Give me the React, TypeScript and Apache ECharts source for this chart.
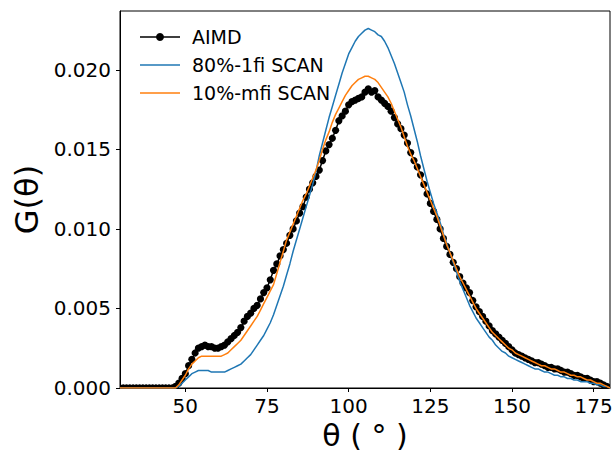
import React, { useEffect, useRef } from "react";
import * as echarts from "echarts";

// θ from 30° to 180° in 1° steps
const thetaStart = 30;
const thetaEnd = 180;

// AIMD reference G(θ)
const aimd: number[] = [
  // 30-39
  0, 0, 0, 0, 0, 0, 0, 0, 0, 0,
  // 40-49
  0, 0, 0, 0, 0, 0, 0, 0.0001, 0.0003, 0.0006,
  // 50-59
  0.0009, 0.0014, 0.0018, 0.0022, 0.0025, 0.0026, 0.0027, 0.0026, 0.0026, 0.0025,
  // 60-69
  0.0025, 0.0026, 0.0027, 0.0029, 0.0031, 0.0033, 0.0035, 0.0038, 0.0042, 0.0045,
  // 70-79
  0.0047, 0.0050, 0.0052, 0.0056, 0.0060, 0.0063, 0.0068, 0.0074, 0.0078, 0.0083,
  // 80-89
  0.0087, 0.0091, 0.0096, 0.0100, 0.0105, 0.0110, 0.0114, 0.0120, 0.0125, 0.0129,
  // 90-99
  0.0133, 0.0137, 0.0143, 0.0149, 0.0153, 0.0157, 0.0162, 0.0168, 0.0171, 0.0174,
  // 100-109
  0.0178, 0.0180, 0.0181, 0.0182, 0.0183, 0.0186, 0.0188, 0.0186, 0.0187, 0.0183,
  // 110-119
  0.0181, 0.0179, 0.0177, 0.0174, 0.0170, 0.0166, 0.0163, 0.0159, 0.0154, 0.0148,
  // 120-129
  0.0143, 0.0139, 0.0134, 0.0128, 0.0122, 0.0116, 0.0111, 0.0106, 0.0100, 0.0094,
  // 130-139
  0.0089, 0.0084, 0.0079, 0.0075, 0.0070, 0.0066, 0.0063, 0.0060, 0.0055, 0.0051,
  // 140-149
  0.0048, 0.0045, 0.0042, 0.0039, 0.0036, 0.0034, 0.0032, 0.0030, 0.0028, 0.0026,
  // 150-159
  0.0024, 0.0022, 0.0021, 0.0020, 0.0019, 0.0018, 0.0017, 0.0016, 0.0016, 0.0015,
  // 160-169
  0.0014, 0.0013, 0.0013, 0.0012, 0.0012, 0.0011, 0.0010, 0.0010, 0.0009, 0.0008,
  // 170-179
  0.0008, 0.0007, 0.0006, 0.0006, 0.0005, 0.0004, 0.0004, 0.0003, 0.0002, 0.0001,
  // 180
  0.0,
];

// 80%-1fi SCAN
const scan80: number[] = [
  // 30-39
  0, 0, 0, 0, 0, 0, 0, 0, 0, 0,
  // 40-49
  0, 0, 0, 0, 0, 0, 0, 0.0, 0.0001, 0.0003,
  // 50-59
  0.0005, 0.0007, 0.0009, 0.0010, 0.0011, 0.0011, 0.0011, 0.0011, 0.0010, 0.0010,
  // 60-69
  0.0010, 0.0010, 0.0010, 0.0011, 0.0012, 0.0013, 0.0014, 0.0015, 0.0017, 0.0019,
  // 70-79
  0.0021, 0.0024, 0.0027, 0.0030, 0.0033, 0.0037, 0.0041, 0.0046, 0.0052, 0.0058,
  // 80-89
  0.0064, 0.0071, 0.0078, 0.0086, 0.0093, 0.0100, 0.0107, 0.0114, 0.0121, 0.0128,
  // 90-99
  0.0136, 0.0146, 0.0154, 0.0162, 0.0170, 0.0177, 0.0184, 0.0191, 0.0198, 0.0204,
  // 100-109
  0.0210, 0.0214, 0.0218, 0.0221, 0.0223, 0.0225, 0.0226, 0.0225, 0.0224, 0.0222,
  // 110-119
  0.0221, 0.0218, 0.0214, 0.0209, 0.0204, 0.0198, 0.0192, 0.0186, 0.0178, 0.0171,
  // 120-129
  0.0163, 0.0155, 0.0146, 0.0138, 0.0130, 0.0123, 0.0116, 0.0110, 0.0104, 0.0097,
  // 130-139
  0.0091, 0.0085, 0.0079, 0.0073, 0.0067, 0.0062, 0.0057, 0.0052, 0.0048, 0.0044,
  // 140-149
  0.0041, 0.0038, 0.0035, 0.0032, 0.0030, 0.0027, 0.0025, 0.0023, 0.0022, 0.0020,
  // 150-159
  0.0019, 0.0018, 0.0017, 0.0016, 0.0015, 0.0014, 0.0013, 0.0012, 0.0012, 0.0011,
  // 160-169
  0.0010, 0.0010, 0.0009, 0.0008, 0.0008, 0.0007, 0.0007, 0.0006, 0.0006, 0.0005,
  // 170-179
  0.0005, 0.0004, 0.0004, 0.0004, 0.0003, 0.0003, 0.0002, 0.0002, 0.0001, 0.0001,
  // 180
  0.0,
];

// 10%-mfi SCAN
const scan10: number[] = [
  // 30-39
  0, 0, 0, 0, 0, 0, 0, 0, 0, 0,
  // 40-49
  0, 0, 0, 0, 0, 0, 0, 0.0, 0.0002, 0.0005,
  // 50-59
  0.0008, 0.0012, 0.0015, 0.0017, 0.0019, 0.0020, 0.0020, 0.0020, 0.0020, 0.0020,
  // 60-69
  0.0020, 0.0020, 0.0021, 0.0022, 0.0024, 0.0026, 0.0028, 0.0030, 0.0033, 0.0036,
  // 70-79
  0.0039, 0.0042, 0.0045, 0.0049, 0.0053, 0.0057, 0.0061, 0.0065, 0.0072, 0.0079,
  // 80-89
  0.0086, 0.0093, 0.0098, 0.0103, 0.0108, 0.0113, 0.0118, 0.0122, 0.0127, 0.0132,
  // 90-99
  0.0137, 0.0143, 0.0150, 0.0156, 0.0161, 0.0167, 0.0172, 0.0176, 0.0180, 0.0184,
  // 100-109
  0.0187, 0.0190, 0.0192, 0.0194, 0.0195, 0.0196, 0.0196, 0.0195, 0.0194, 0.0192,
  // 110-119
  0.0189, 0.0186, 0.0183, 0.0179, 0.0174, 0.0169, 0.0164, 0.0158, 0.0152, 0.0147,
  // 120-129
  0.0143, 0.0138, 0.0133, 0.0128, 0.0123, 0.0118, 0.0113, 0.0108, 0.0102, 0.0096,
  // 130-139
  0.0090, 0.0085, 0.0080, 0.0075, 0.0070, 0.0066, 0.0062, 0.0058, 0.0054, 0.0050,
  // 140-149
  0.0047, 0.0044, 0.0041, 0.0038, 0.0035, 0.0033, 0.0031, 0.0029, 0.0027, 0.0025,
  // 150-159
  0.0024, 0.0022, 0.0021, 0.0020, 0.0019, 0.0018, 0.0017, 0.0016, 0.0015, 0.0014,
  // 160-169
  0.0014, 0.0013, 0.0012, 0.0012, 0.0011, 0.0010, 0.0010, 0.0009, 0.0008, 0.0008,
  // 170-179
  0.0007, 0.0007, 0.0006, 0.0005, 0.0005, 0.0004, 0.0003, 0.0003, 0.0002, 0.0001,
  // 180
  0.0,
];

const xTicks = [50, 75, 100, 125, 150, 175];
const yTicks = [0, 0.005, 0.01, 0.015, 0.02];
const yMax = 0.0237;

const seriesNames = ["AIMD", "80%-1fi SCAN", "10%-mfi SCAN"];
const colors = ["#000000", "#1f77b4", "#ff7f0e"];

const FONT = "DejaVu Sans";

function pairs(vals: number[]): [number, number][] {
  return vals.map((v, i) => [thetaStart + i, v]);
}

export default function App() {
  const ref = useRef<HTMLDivElement>(null);

  useEffect(() => {
    if (!ref.current) return;
    const chart = echarts.init(ref.current, undefined, { renderer: "svg" });

    const lineIcon = "path://M0,0H40V1.6H0Z";
    const aimdIcon =
      "path://M0,3.7H40V5.3H0Z M20,0.5A4,4 0 1 1 19.99,0.5Z";

    chart.setOption({
      animation: false,
      backgroundColor: "#ffffff",
      grid: {
        left: 120,
        right: 5,
        top: 11,
        bottom: 64,
        show: true,
        borderColor: "#000",
        borderWidth: 1,
        backgroundColor: "transparent",
        outerBoundsMode: "none",
        containLabel: false,
      },
      legend: {
        orient: "vertical",
        left: 135,
        top: 22,
        itemWidth: 40,
        itemHeight: 12,
        itemGap: 8,
        textStyle: {
          fontFamily: FONT,
          fontSize: 19,
          color: "#000",
          lineHeight: 20,
          padding: [0, 0, 0, 7],
        },
        data: [
          { name: seriesNames[0], icon: aimdIcon },
          { name: seriesNames[1], icon: lineIcon },
          { name: seriesNames[2], icon: lineIcon },
        ],
      },
      xAxis: {
        type: "value",
        min: thetaStart,
        max: thetaEnd,
        name: "θ ( ° )",
        nameLocation: "middle",
        nameGap: 29,
        nameTextStyle: { fontFamily: FONT, fontSize: 30, color: "#000" },
        axisLine: { show: true, onZero: false, lineStyle: { color: "#000", width: 1 } },
        axisTick: {
          show: true,
          inside: false,
          length: 4,
          lineStyle: { color: "#000" },
          customValues: xTicks,
        },
        axisLabel: {
          fontFamily: FONT,
          fontSize: 20,
          color: "#000",
          margin: 8,
          customValues: xTicks,
          formatter: (v: number) => String(v),
        },
        splitLine: { show: false },
      },
      yAxis: {
        type: "value",
        min: 0,
        max: yMax,
        name: "G(θ)",
        nameLocation: "middle",
        nameGap: 77,
        nameTextStyle: { fontFamily: FONT, fontSize: 32, color: "#000" },
        axisLine: { show: true, onZero: false, lineStyle: { color: "#000", width: 1 } },
        axisTick: {
          show: true,
          inside: false,
          length: 4,
          lineStyle: { color: "#000" },
          customValues: yTicks,
        },
        axisLabel: {
          fontFamily: FONT,
          fontSize: 20,
          color: "#000",
          margin: 9,
          customValues: yTicks,
          formatter: (v: number) => v.toFixed(3),
        },
        splitLine: { show: false },
      },
      series: [
        {
          name: seriesNames[0],
          type: "line",
          data: pairs(aimd),
          showSymbol: false,
          symbol: "none",
          color: colors[0],
          lineStyle: { color: colors[0], width: 1.5 },
          clip: true,
        },
        {
          name: seriesNames[0],
          type: "custom",
          data: pairs(aimd),
          encode: { x: 0, y: 1 },
          clip: true,
          color: colors[0],
          renderItem: (_params: any, api: any) => {
            const p = api.coord([api.value(0), api.value(1)]);
            return {
              type: "circle",
              shape: { cx: p[0], cy: p[1], r: 3.6 },
              style: { fill: colors[0] },
            };
          },
        },
        {
          name: seriesNames[1],
          type: "line",
          data: pairs(scan80),
          showSymbol: false,
          symbol: "none",
          color: colors[1],
          lineStyle: { color: colors[1], width: 1.5 },
          clip: true,
        },
        {
          name: seriesNames[2],
          type: "line",
          data: pairs(scan10),
          showSymbol: false,
          symbol: "none",
          color: colors[2],
          lineStyle: { color: colors[2], width: 1.5 },
          clip: true,
        },
      ],
    });

    return () => {
      chart.dispose();
    };
  }, []);

  return (
    <div
      ref={ref}
      style={{ position: "fixed", left: 0, top: 0, width: 615, height: 452 }}
    />
  );
}
